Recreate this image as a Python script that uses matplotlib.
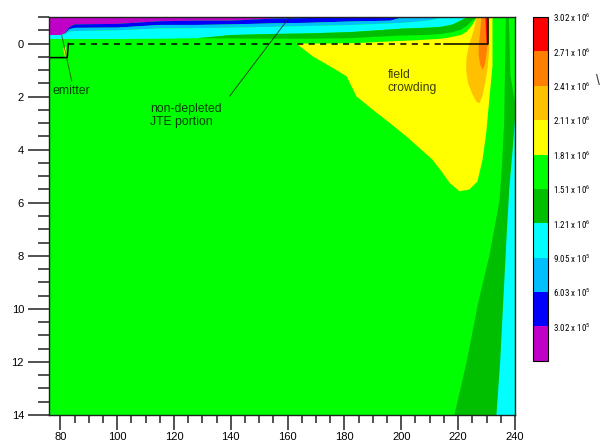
import numpy as np
import matplotlib
matplotlib.use("Agg")
import matplotlib.pyplot as plt
from matplotlib.colors import ListedColormap, BoundaryNorm
from matplotlib.cm import ScalarMappable
from matplotlib.ticker import MultipleLocator
from matplotlib import font_manager

plt.rcParams['font.family'] = ['Liberation Sans', 'DejaVu Sans']
plt.rcParams['mathtext.default'] = 'regular'

# Electric field levels (V/cm) and the colour of each band
levels = [0, 3.02e5, 6.03e5, 9.05e5, 1.21e6, 1.51e6, 1.81e6, 2.11e6, 2.41e6, 2.71e6, 3.02e6]
level_colors = ['#c000c8', '#0000ff', '#00bfff', '#00ffff', '#00bf00',
                '#00ff00', '#ffff00', '#ffc000', '#ff8000', '#ff0000']
level_labels = ['3.02 x 10$^5$', '6.03 x 10$^5$', '9.05 x 10$^5$', '1.21 x 10$^6$',
                '1.51 x 10$^6$', '1.81 x 10$^6$', '2.11 x 10$^6$', '2.41 x 10$^6$',
                '2.71 x 10$^6$', '3.02 x 10$^6$']

# Layered contours along the passivation surface (lower edge of each band, um)
x_top = [76, 80, 81.5, 83, 85, 100, 115, 128, 140, 155, 167, 182, 196, 200, 205, 210,
         214, 218, 221, 223, 225, 226.6, 229]
magenta_lo = [-0.34, -0.34, -0.42, -0.64, -0.74, -0.76, -0.86, -0.88, -0.88, -0.96, -0.98,
              -1, -1, -1, -1, -1, -1, -1, -1, -1, -1, -1, -1]
blue_lo = [-0.34, -0.34, -0.40, -0.56, -0.61, -0.62, -0.72, -0.72, -0.74, -0.78, -0.80,
           -0.85, -0.88, -1, -1, -1, -1, -1, -1, -1, -1, -1, -1]
lightblue_lo = [-0.34, -0.34, -0.38, -0.47, -0.49, -0.52, -0.59, -0.60, -0.62, -0.65, -0.68,
                -0.72, -0.78, -0.80, -0.84, -0.90, -1, -1, -1, -1, -1, -1, -1]
cyan_lo = [-0.19, -0.19, -0.19, -0.19, -0.19, -0.19, -0.20, -0.22, -0.34, -0.38, -0.40,
           -0.45, -0.55, -0.58, -0.60, -0.62, -0.65, -0.74, -0.90, -1, -1, -1, -1]
dkgreen_lo = [-0.19, -0.19, -0.19, -0.19, -0.19, -0.19, -0.20, -0.22, -0.21, -0.20, -0.20,
              -0.22, -0.30, -0.32, -0.33, -0.35, -0.38, -0.45, -0.55, -0.70, -0.90, -1, -1]

# Field crowding region (1.81e6 - 2.11e6)
yellow_x = [163, 168.8, 174.8, 180.7, 184.2, 189.9, 195.9, 201.8, 206.4, 211, 214.5, 217,
            220.5, 224, 226.8, 228.6, 229.9, 231, 232.1, 232.1, 232.1, 226.6, 225, 223, 221,
            218, 214, 205, 196, 185, 175]
yellow_y = [0, 0.48, 0.85, 1.23, 1.99, 2.49, 2.99, 3.5, 3.94, 4.38, 4.87, 5.25,
            5.57, 5.5, 5.2, 4.38, 3.37, 2.1, 0.85, 0, -1, -1, -0.7, -0.45, -0.32,
            -0.25, -0.18, -0.12, -0.08, -0.02, 0]
gold_x = [226.5, 225.5, 224, 223, 222.8, 223.5, 225, 226.5, 227.5, 228.5, 229.5, 230.3, 230.8, 231, 231]
gold_y = [-1, -0.5, 0, 0.5, 1.0, 1.5, 1.9, 2.2, 2.25, 2.0, 1.5, 1.0, 0.5, 0, -1]
orange_x = [228.2, 227.8, 227.3, 227.2, 227.8, 228.6, 229.4, 230, 230.4, 230.5]
orange_y = [-1, -0.5, 0, 0.4, 0.8, 1.0, 0.8, 0.4, 0, -1]
red_x = [229.6, 229.8, 230.0, 230.5, 230.5]
red_y = [-1, -0.5, -0.05, 0.1, -1]
emitter_spot_x = [81.0, 81.8, 82.3, 81.6]
emitter_spot_y = [0.2, 0.1, 0.45, 0.5]

# Low-field bands at the die edge
edge_dkgreen_x = [236.8, 236.5, 236.2, 235.5, 234.6, 231, 227.2, 223, 218.7, 240, 240, 238.4, 237.9]
edge_dkgreen_y = [-1, 1, 3, 4.5, 5.9, 8, 9.7, 12, 14, 14, 2.2, 1.2, -1]
edge_cyan_x = [240, 239.2, 238, 237.2, 236, 234.8, 233.5, 240]
edge_cyan_y = [2.8, 4, 5.5, 7, 9.5, 12, 14, 14]

# Junction outlines
emitter_x = [76, 82.4, 82.8]
emitter_y = [0.53, 0.53, 0]
jte_x = [82.8, 215]
jte_y = [0, 0]
contact_x = [215, 230.5, 230.5]
contact_y = [0, 0, -1]

fig = plt.figure(figsize=(6.09, 4.45), dpi=100)
ax = fig.add_axes([0.0805, 0.0674, 0.765, 0.8944])
ax.set_facecolor(level_colors[5])

bands = [(-1, magenta_lo, 0), (magenta_lo, blue_lo, 1), (blue_lo, lightblue_lo, 2),
         (lightblue_lo, cyan_lo, 3), (cyan_lo, dkgreen_lo, 4)]
for upper, lower, ci in bands:
    ax.fill_between(x_top, upper, lower, color=level_colors[ci], lw=0)

ax.fill(yellow_x, yellow_y, color=level_colors[6], lw=0)
ax.fill(gold_x, gold_y, color=level_colors[7], lw=0)
ax.fill(orange_x, orange_y, color=level_colors[8], lw=0)
ax.fill(red_x, red_y, color=level_colors[9], lw=0)
ax.fill(emitter_spot_x, emitter_spot_y, color=level_colors[6], lw=0)
ax.fill(edge_dkgreen_x, edge_dkgreen_y, color=level_colors[4], lw=0)
ax.fill(edge_cyan_x, edge_cyan_y, color=level_colors[3], lw=0)

ax.plot(emitter_x, emitter_y, color='black', lw=1.1)
ax.plot(jte_x, jte_y, color='black', lw=1.1, dashes=(4, 3.5))
ax.plot(contact_x, contact_y, color='black', lw=1.1)

# Annotations
txt = dict(color='black', alpha=0.75, fontsize=8.8)
ax.text(77.2, 1.78, 'emitter', va='center', ha='left', **txt)
ax.plot([84, 80.5], [1.42, -0.3], color='#333300', lw=0.7, alpha=0.7)
ax.text(111.5, 2.72, 'non-depleted\nJTE portion', va='center', ha='left', linespacing=1.1, **txt)
ax.plot([139.6, 160.7], [1.98, -1.0], color='#222222', lw=0.7, alpha=0.8)
ax.text(195.2, 1.43, 'field\ncrowding', va='center', ha='left', linespacing=1.1, **txt)

ax.set_xlim(76, 240)
ax.set_ylim(14, -1)
ax.xaxis.set_major_locator(MultipleLocator(20))
ax.xaxis.set_minor_locator(MultipleLocator(5))
ax.yaxis.set_major_locator(MultipleLocator(2))
ax.yaxis.set_minor_locator(MultipleLocator(0.5))
ax.tick_params(axis='y', which='major', direction='out', length=15, width=1.1, pad=3,
               labelsize=8, color='#222222')
ax.tick_params(axis='y', which='minor', direction='out', length=8, width=1.1, color='#222222')
ax.tick_params(axis='x', which='major', direction='out', length=11, width=1.1, pad=1,
               labelsize=8, color='#222222')
ax.tick_params(axis='x', which='minor', direction='out', length=6, width=1.1, color='#222222')
for sp in ax.spines.values():
    sp.set_linewidth(1.0)
    sp.set_color('#222222')

# Field scale
cmap = ListedColormap(level_colors)
norm = BoundaryNorm(levels, cmap.N)
cax = fig.add_axes([0.875, 0.189, 0.0246, 0.773])
cb = fig.colorbar(ScalarMappable(norm=norm, cmap=cmap), cax=cax, ticks=levels[1:])
cb.set_ticklabels(level_labels)
cax.minorticks_off()
cax.tick_params(length=0, pad=4, labelsize=6.5)

# Narrow face for the scale labels when one is installed
installed = {f.name for f in font_manager.fontManager.ttflist}
narrow = [n for n in ['Liberation Sans Narrow', 'DejaVu Sans Condensed', 'Roboto Condensed',
                      'Open Sans Condensed', 'Arial Narrow'] if n in installed]
for lab in cax.get_yticklabels():
    if narrow:
        lab.set_family([narrow[0], 'Liberation Sans'])
    else:
        lab.set_fontsize(5.8)
cb.outline.set_linewidth(0.8)
fig.text(0.978, 0.81, '\\', fontsize=10, color='#333333')

fig.savefig('out.png', dpi=100)
